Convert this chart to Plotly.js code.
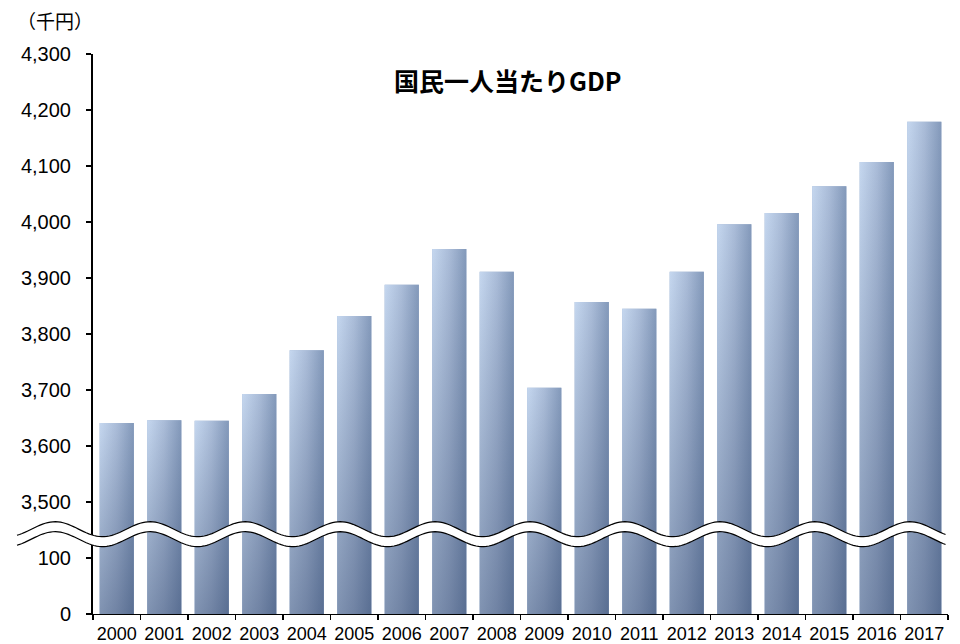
<!DOCTYPE html>
<html>
<head>
<meta charset="utf-8">
<script src="https://cdn.plot.ly/plotly-3.0.1.min.js"></script>
<style>
  html, body { margin: 0; padding: 0; background: #ffffff; }
  #chart { width: 960px; height: 644px; }
</style>
</head>
<body>
<div id="chart"></div>
<script>
// ---- data ----
var years = ['2000','2001','2002','2003','2004','2005','2006','2007','2008',
             '2009','2010','2011','2012','2013','2014','2015','2016','2017'];
var gdpPerCapita = [3641, 3646, 3645, 3693, 3771, 3832, 3888, 3952, 3911,
                    3704, 3857, 3845, 3911, 3996, 4016, 4064, 4107, 4179]; // 千円

// broken y axis: values 100 .. 3400 are collapsed
var breakLow = 100;     // last value shown below the break
var breakHigh = 3400;   // value that sits where breakLow would be
var yTickValues = [0, 100, 3500, 3600, 3700, 3800, 3900, 4000, 4100, 4200, 4300];
var yTickLabels = ['0', '100', '3,500', '3,600', '3,700', '3,800', '3,900', '4,000', '4,100', '4,200', '4,300'];

function toAxis(v) { return v > breakLow ? v - (breakHigh - breakLow) : v; }

var plotted = gdpPerCapita.map(toAxis);
var barWidth = 0.72;

var traces = [];
// base bars (library bar trace on the category axis)
traces.push({
  type: 'bar', x: years, y: plotted, width: barWidth,
  marker: { color: '#9fb3d0', line: { width: 0 } },
  hoverinfo: 'skip', showlegend: false
});
// gradient skins on top of each bar
plotted.forEach(function (h, i) {
  var xs = [i - barWidth / 2, i + barWidth / 2, i + barWidth / 2, i - barWidth / 2, i - barWidth / 2];
  var ys = [0, 0, h, h, 0];
  traces.push({
    type: 'scatter', mode: 'lines', x: xs, y: ys, xaxis: 'x2', yaxis: 'y',
    fill: 'toself', line: { width: 0 },
    fillgradient: { type: 'horizontal', colorscale: [[0, '#c5d7ef'], [0.5, '#aabcd8'], [1, '#8399ba']] },
    hoverinfo: 'skip', showlegend: false
  });
  traces.push({
    type: 'scatter', mode: 'lines', x: xs, y: ys, xaxis: 'x2', yaxis: 'y',
    fill: 'toself', line: { width: 0 },
    fillgradient: { type: 'vertical', colorscale: [[0, 'rgba(25,45,85,0.40)'], [1, 'rgba(25,45,85,0)']] },
    hoverinfo: 'skip', showlegend: false
  });
});

// wavy break band (decoration)
var waveX0 = -0.0889, waveX1 = 1.0, wavePeriod = 1 / 9, waveCrest = -0.0444;
var topC = 151.4, botC = 133.6, amp = 13.4;
function wave(c) {
  var pts = [];
  for (var x = waveX0; x <= waveX1 + 1e-9; x += 0.003) {
    pts.push([x, c + amp * Math.cos(2 * Math.PI * (x - waveCrest) / wavePeriod)]);
  }
  return pts;
}
var topPts = wave(topC), botPts = wave(botC);
function pathOf(pts) {
  return pts.map(function (p, k) { return (k ? 'L' : 'M') + p[0].toFixed(5) + ',' + p[1].toFixed(3); }).join(' ');
}
var bandPath = pathOf(topPts) + ' ' + botPts.slice().reverse().map(function (p) {
  return 'L' + p[0].toFixed(5) + ',' + p[1].toFixed(3);
}).join(' ') + ' Z';

var shapes = [
  { type: 'path', xref: 'paper', yref: 'y', path: bandPath, fillcolor: '#ffffff', line: { width: 0 }, layer: 'above' },
  { type: 'path', xref: 'paper', yref: 'y', path: pathOf(topPts), line: { color: '#000000', width: 1.2 }, layer: 'above' },
  { type: 'path', xref: 'paper', yref: 'y', path: pathOf(botPts), line: { color: '#000000', width: 1.2 }, layer: 'above' }
];

var layout = {
  width: 960, height: 644,
  margin: { l: 93, r: 12, t: 54, b: 30, autoexpand: false },
  paper_bgcolor: '#ffffff', plot_bgcolor: '#ffffff',
  showlegend: false, hovermode: false, bargap: 0.28,
  font: { family: '"Liberation Sans", Arial, sans-serif', color: '#000000' },
  xaxis: {
    type: 'category', range: [-0.5, 17.5], tickson: 'boundaries',
    ticks: 'outside', ticklen: 5, tickwidth: 1.3, tickcolor: '#000000',
    showline: true, linecolor: '#000000', linewidth: 1.3, tickangle: 0,
    showgrid: false, zeroline: false, automargin: false, ticklabelstandoff: 3,
    tickfont: { size: 18, family: '"Liberation Sans", Arial, sans-serif', color: '#000000' }
  },
  xaxis2: { overlaying: 'x', range: [-0.5, 17.5], visible: false, type: 'linear' },
  yaxis: {
    range: [0, toAxis(4300)], tickmode: 'array',
    tickvals: yTickValues.map(toAxis), ticktext: yTickLabels,
    ticks: 'outside', ticklen: 5, tickwidth: 1.3, tickcolor: '#000000',
    showline: true, linecolor: '#000000', linewidth: 2,
    showgrid: false, zeroline: false, automargin: false, ticklabelstandoff: 11,
    tickfont: { size: 20, family: '"Liberation Sans", Arial, sans-serif', color: '#000000' }
  },
  shapes: shapes,
  annotations: [
    { text: '国民一人当たりGDP', xref: 'paper', yref: 'paper', x: 0.485, y: 0.9527,
      xanchor: 'center', yanchor: 'middle', showarrow: false,
      font: { family: '"Noto Sans CJK JP", sans-serif', size: 25, weight: 'bold', color: '#000000' } },
    { text: '（千円）', xref: 'paper', yref: 'paper', x: -0.0444, y: 1.059,
      xanchor: 'center', yanchor: 'middle', showarrow: false,
      font: { family: '"Noto Sans CJK JP", sans-serif', size: 19, color: '#000000' } }
  ]
};

Plotly.newPlot('chart', traces, layout, { staticPlot: true, displayModeBar: false });
</script>
</body>
</html>
